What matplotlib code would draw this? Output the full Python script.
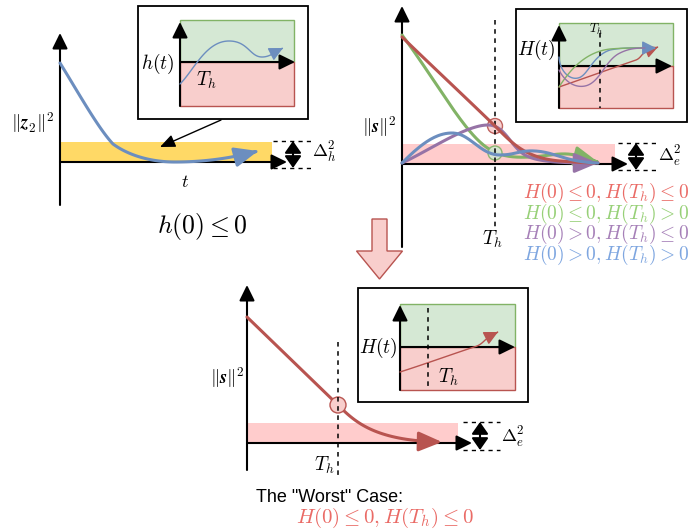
import numpy as np
import matplotlib.pyplot as plt
from matplotlib.path import Path
from matplotlib.bezier import BezierSegment
from matplotlib.patches import Rectangle, Circle, FancyArrowPatch, FancyArrow

plt.rcParams['mathtext.fontset'] = 'cm'

# draw.io style palette
RED, RED_FILL = '#b85450', '#f8cecc'
GREEN, GREEN_FILL = '#82b366', '#d5e8d4'
PURPLE = '#9673a6'
BLUE = '#6c8ebf'
BAND_PINK = '#ffcccc'
BAND_YELLOW = '#ffd966'
TXT_COLORS = ['#ea6b66', '#97d077', '#a680b8', '#7ea6e0']

# the whole picture lives in pixel units (x right, y down)
# curves are cubic bezier chains: start point, then (ctrl, ctrl, end) triples

# --- top left: ||z2||^2 and h(t) ---
z2_curve = [(60, 63), (78, 92), (98, 128), (113, 144),
            (128, 155), (150, 162), (175, 162),
            (205, 162), (232, 158), (258, 151)]
h_curve = [(180, 84), (194, 70), (206, 41), (229, 41),
           (248, 41), (250, 57), (262, 57),
           (270, 57), (275, 52), (283, 48)]

# --- top right: ||s||^2 for the four cases ---
s_red = [(402, 37), (433, 67), (464, 96), (495, 126),
         (512, 143), (525, 158), (560, 161),
         (575, 162), (585, 163), (598, 163)]
s_green = [(402, 35), (430, 72), (458, 122), (480, 142),
           (495, 156), (510, 158), (530, 157),
           (550, 156), (560, 152), (575, 155),
           (585, 157), (590, 160), (598, 162)]
s_blue = [(402, 163), (420, 145), (435, 133), (452, 133),
          (470, 133), (480, 155), (500, 155),
          (515, 155), (520, 150), (535, 151),
          (555, 152), (565, 162), (598, 163)]
s_purple = [(402, 163), (430, 150), (466, 125), (488, 125),
            (505, 125), (510, 146), (525, 155),
            (537, 162), (560, 163), (598, 163)]

H_green = [(559, 87), (570, 70), (585, 52), (610, 49),
           (622, 48), (632, 48), (642, 48)]
H_blue = [(559, 57), (560, 72), (570, 80), (578, 78),
          (588, 76), (592, 56), (610, 50),
          (625, 47), (640, 48), (656, 48)]
H_purple = [(559, 70), (565, 82), (575, 88), (585, 86),
            (600, 83), (605, 60), (620, 53),
            (628, 49), (635, 48), (645, 48)]
H_red = [(559, 87), (585, 78), (610, 69), (636, 60),
         (641, 58), (642, 53), (646, 52),
         (650, 51), (653, 49), (658, 47)]

# --- bottom: the worst case ---
w_curve = [(247, 317), (277, 346), (308, 376), (338, 405),
           (355, 422), (375, 441), (442, 442)]
Hw_curve = [(400, 372), (425, 364), (450, 355), (474, 347),
            (482, 345), (484, 340), (488, 338),
            (491, 336), (494, 334), (498, 332)]

legend_labels = [r'$H(0)\leq 0, H(T_h)\leq 0$', r'$H(0)\leq 0, H(T_h)>0$',
                 r'$H(0)>0, H(T_h)\leq 0$', r'$H(0)>0, H(T_h)>0$']
legend_y = [193, 213.5, 234, 254.5]


def bez_path(pts, n=40):
    pts = np.asarray(pts, float)
    out = [pts[:1]]
    for i in range(0, len(pts) - 1, 3):
        out.append(BezierSegment(pts[i:i + 4])(np.linspace(0, 1, n)[1:]))
    return Path(np.vstack(out))


def curve(ax, pts, color, lw, head=None):
    path = bez_path(pts)
    if head is None:
        ax.plot(path.vertices[:, 0], path.vertices[:, 1], color=color, lw=lw,
                solid_capstyle='round', solid_joinstyle='round')
        return
    hl, hw, ms = head
    ax.add_patch(FancyArrowPatch(path=path, color=color, lw=lw,
                                 arrowstyle=f'-|>,head_length={hl},head_width={hw}',
                                 mutation_scale=ms, capstyle='round', joinstyle='round'))


def arrow(ax, a, b, lw=1.5, color='black', hl=0.63, hw=0.31, ms=15):
    ax.add_patch(FancyArrowPatch(a, b, arrowstyle=f'-|>,head_length={hl},head_width={hw}',
                                 mutation_scale=ms, lw=lw, color=color,
                                 shrinkA=0, shrinkB=0))


def inset(ax, box, area, split, yarrow_tip, xarrow_tip):
    bx, by, bw, bh = box
    ax.add_patch(Rectangle((bx, by), bw, bh, facecolor='white', edgecolor='black', lw=1.3))
    x0, y0, x1, y1 = area
    ax.add_patch(Rectangle((x0, y0), x1 - x0, split - y0, facecolor=GREEN_FILL,
                           edgecolor=GREEN, lw=1))
    ax.add_patch(Rectangle((x0, split), x1 - x0, y1 - split, facecolor=RED_FILL,
                           edgecolor=RED, lw=1))
    arrow(ax, (x0, y1), (x0, yarrow_tip))
    arrow(ax, (x0, split), (xarrow_tip, split))


def bracket(ax, x0, x1, ya, yb, xm):
    for y in (ya, yb):
        ax.plot([x0, x1], [y, y], color='black', lw=1, ls=(0, (3, 3)))
    arrow(ax, (xm, (ya + yb) / 2), (xm, ya), lw=1.5, hl=0.6, hw=0.42, ms=12)
    arrow(ax, (xm, (ya + yb) / 2), (xm, yb), lw=1.5, hl=0.6, hw=0.42, ms=12)


fig = plt.figure(figsize=(6.91, 5.31), dpi=100)
ax = fig.add_axes([0, 0, 1, 1])
ax.set_xlim(0, 691)
ax.set_ylim(531, 0)
ax.axis('off')

MS = 13  # math text size

# ---------------- panel 1 ----------------
ax.add_patch(Rectangle((60, 142), 212, 20, facecolor=BAND_YELLOW, edgecolor='none'))
arrow(ax, (60, 205), (60, 33))
arrow(ax, (60, 162), (287, 162))
curve(ax, z2_curve, BLUE, 2.2, head=(0.95, 0.4, 15))
inset(ax, (138, 6, 170, 113), (180, 20, 294, 106), 62, 22, 295)
curve(ax, h_curve, BLUE, 1.0, head=(0.7, 0.35, 12))
arrow(ax, (221, 120), (160, 147), lw=1.0, hl=0.7, hw=0.3, ms=13)
bracket(ax, 273, 312, 141, 168, 293)
ax.text(33, 123, r'$\|\boldsymbol{z}_2\|^2$', fontsize=MS + 0.5, ha='center', va='center')
ax.text(185, 182, r'$t$', fontsize=MS, ha='center', va='center')
ax.text(158, 64, r'$h(t)$', fontsize=MS + 1, ha='center', va='center')
ax.text(206, 80, r'$T_h$', fontsize=MS + 1, ha='center', va='center')
ax.text(324, 152, r'$\Delta_h^2$', fontsize=MS, ha='center', va='center')
ax.text(202, 227, r'$h(0)\leq 0$', fontsize=18.5, ha='center', va='center')

# ---------------- panel 2 ----------------
ax.add_patch(Rectangle((402, 144), 213, 20, facecolor=BAND_PINK, edgecolor='none'))
ax.plot([495, 495], [20, 229], color='black', lw=1.1, ls=(0, (3, 3)))
arrow(ax, (402, 247), (402, 6))
arrow(ax, (402, 164), (628, 164))
curve(ax, s_red, RED, 2.2)
curve(ax, s_green, GREEN, 2.2, head=(0.95, 0.4, 15))
ax.add_patch(Circle((495, 126), 7.5, facecolor=RED_FILL, edgecolor=RED, lw=1, alpha=0.9))
ax.add_patch(Circle((495, 153), 7, facecolor=GREEN_FILL, edgecolor=GREEN, lw=1, alpha=0.9))
curve(ax, s_blue, BLUE, 2.2)
curve(ax, s_purple, PURPLE, 2.2, head=(0.95, 0.4, 15))
inset(ax, (516, 9, 171, 113), (559, 23, 673, 108), 66, 25, 672)
ax.plot([600, 600], [33, 108], color='black', lw=1.1, ls=(0, (3, 3)))
curve(ax, H_green, GREEN, 1.0)
curve(ax, H_red, RED, 1.0, head=(0.7, 0.35, 11))
curve(ax, H_purple, PURPLE, 1.0)
curve(ax, H_blue, BLUE, 1.0, head=(0.7, 0.35, 12))
bracket(ax, 618, 657, 143, 170, 636)
ax.text(379, 127, r'$\|\boldsymbol{s}\|^2$', fontsize=MS + 0.5, ha='center', va='center')
ax.text(492, 239, r'$T_h$', fontsize=MS + 1, ha='center', va='center')
ax.text(670, 156, r'$\Delta_e^2$', fontsize=MS, ha='center', va='center')
ax.text(536, 50, r'$H(t)$', fontsize=MS + 1, ha='center', va='center')
ax.text(596, 29, r'$T_h$', fontsize=9, ha='center', va='center')
for lab, col, y in zip(legend_labels, TXT_COLORS, legend_y):
    ax.text(689, y, lab, fontsize=14, color=col, ha='right', va='center')

# big arrow between the rows
ax.add_patch(FancyArrow(379.5, 219, 0, 60, width=15, head_width=46, head_length=28,
                        length_includes_head=True, facecolor=RED_FILL, edgecolor=RED, lw=1))

# ---------------- panel 3 ----------------
ax.add_patch(Rectangle((247, 423), 211, 20, facecolor=BAND_PINK, edgecolor='none'))
ax.plot([338, 338], [342, 478], color='black', lw=1.1, ls=(0, (3, 3)))
arrow(ax, (247, 470), (247, 285))
arrow(ax, (247, 443), (472, 443))
curve(ax, w_curve, RED, 2.2, head=(0.95, 0.4, 15))
ax.add_patch(Circle((338, 405), 8, facecolor=RED_FILL, edgecolor=RED, lw=1))
inset(ax, (358, 288, 170, 114), (400, 304, 515, 390), 347, 305, 515)
ax.plot([428, 428], [308, 390], color='black', lw=1.1, ls=(0, (3, 3)))
curve(ax, Hw_curve, RED, 1.0, head=(0.7, 0.35, 12))
bracket(ax, 463, 500, 422, 450, 480)
ax.text(227, 378, r'$\|\boldsymbol{s}\|^2$', fontsize=MS + 0.5, ha='center', va='center')
ax.text(324, 465, r'$T_h$', fontsize=MS + 1, ha='center', va='center')
ax.text(513, 437, r'$\Delta_e^2$', fontsize=MS, ha='center', va='center')
ax.text(378, 348, r'$H(t)$', fontsize=MS + 1, ha='center', va='center')
ax.text(448, 377, r'$T_h$', fontsize=MS + 1, ha='center', va='center')
ax.text(256, 498, 'The "Worst" Case:', fontsize=13, family='Liberation Sans',
        ha='left', va='center')
ax.text(385, 518, legend_labels[0], fontsize=15, color=TXT_COLORS[0],
        ha='center', va='center')

fig.savefig('out.png', dpi=100)
